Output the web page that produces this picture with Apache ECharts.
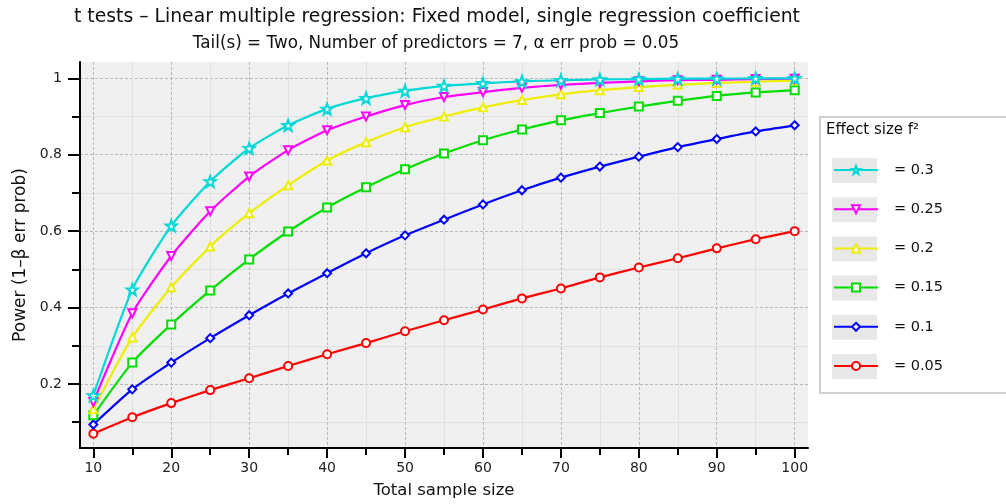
<!DOCTYPE html>
<html>
<head>
<meta charset="utf-8">
<script src="https://cdn.jsdelivr.net/npm/echarts@6/dist/echarts.min.js"></script>
<style>
html, body { margin: 0; padding: 0; background: #fff; }
#main { width: 1006px; height: 504px; }
</style>
</head>
<body>
<div id="main"></div>
<script>
var sampleSizes = [10, 15, 20, 25, 30, 35, 40, 45, 50, 55, 60, 65, 70, 75, 80, 85, 90, 95, 100];
var power03  = [0.170, 0.447, 0.614, 0.730, 0.817, 0.877, 0.920, 0.948, 0.967, 0.980, 0.987, 0.992, 0.995, 0.997, 0.998, 0.999, 0.999, 1.000, 1.000];
var power025 = [0.153, 0.385, 0.535, 0.652, 0.743, 0.812, 0.864, 0.900, 0.930, 0.951, 0.964, 0.975, 0.983, 0.988, 0.992, 0.995, 0.996, 0.998, 0.999];
var power02  = [0.134, 0.322, 0.453, 0.560, 0.647, 0.720, 0.785, 0.833, 0.872, 0.900, 0.924, 0.943, 0.958, 0.969, 0.977, 0.983, 0.988, 0.991, 0.994];
var power015 = [0.118, 0.256, 0.356, 0.445, 0.526, 0.599, 0.662, 0.715, 0.762, 0.803, 0.838, 0.866, 0.890, 0.909, 0.926, 0.941, 0.954, 0.963, 0.969];
var power01  = [0.094, 0.186, 0.256, 0.320, 0.380, 0.437, 0.490, 0.542, 0.589, 0.630, 0.670, 0.707, 0.740, 0.769, 0.795, 0.820, 0.841, 0.861, 0.877];
var power005 = [0.070, 0.113, 0.150, 0.184, 0.215, 0.247, 0.278, 0.307, 0.338, 0.367, 0.395, 0.424, 0.450, 0.479, 0.505, 0.529, 0.555, 0.579, 0.600];

var xMajorTicks = [10, 20, 30, 40, 50, 60, 70, 80, 90, 100];
var xMinorTicks = [15, 25, 35, 45, 55, 65, 75, 85, 95];
var yMajorTicks = [0.2, 0.4, 0.6, 0.8, 1];
var yMinorTicks = [0.1, 0.3, 0.5, 0.7, 0.9];

var FONT = 'DejaVu Sans';
var starPath = 'path://M0,-10L2.35,-3.24L9.51,-3.09L3.8,1.24L5.88,8.09L0,4L-5.88,8.09L-3.8,1.24L-9.51,-3.09L-2.35,-3.24Z';

// drawn bottom to top so the cyan curve sits on top
var seriesDefs = [
    { name: '= 0.05', data: power005, color: '#ff0000', symbol: 'circle', rotate: 0 },
    { name: '= 0.1',  data: power01,  color: '#0000ff', symbol: 'diamond', rotate: 0 },
    { name: '= 0.15', data: power015, color: '#00dd00', symbol: 'rect', rotate: 0 },
    { name: '= 0.2',  data: power02,  color: '#eeee00', symbol: 'triangle', rotate: 0 },
    { name: '= 0.25', data: power025, color: '#ff00ff', symbol: 'triangle', rotate: 180 },
    { name: '= 0.3',  data: power03,  color: '#00d8d8', symbol: starPath, rotate: 0 }
];

var myChart = echarts.init(document.getElementById('main'));

var series = seriesDefs.map(function (d) {
    return {
        name: d.name,
        type: 'line',
        xAxisIndex: 0,
        yAxisIndex: 0,
        data: sampleSizes.map(function (n, i) { return [n, d.data[i]]; }),
        symbol: d.symbol,
        symbolRotate: d.rotate,
        symbolSize: d.symbol === starPath ? 11 : 8,
        showAllSymbol: true,
        smooth: 0.2,
        lineStyle: { color: d.color, width: 2.2 },
        itemStyle: { color: '#ffffff', borderColor: d.color, borderWidth: 2 },
        emphasis: { disabled: true },
        animation: false
    };
});

// gray boxes behind the legend icons
var legendBoxes = [];
for (var i = 0; i < 6; i++) {
    legendBoxes.push({
        type: 'rect',
        shape: { x: 832, y: 158 + i * 39.2, width: 45, height: 25 },
        style: { fill: '#e8e8e8' },
        z: 1
    });
}

var option = {
    backgroundColor: '#ffffff',
    animation: false,
    title: [
        {
            text: 't tests \u2013 Linear multiple regression: Fixed model, single regression coefficient',
            left: 437, top: 8, textAlign: 'center', padding: 0,
            textStyle: { fontFamily: FONT, fontSize: 18.8, fontWeight: 'normal', color: '#111' }
        },
        {
            text: 'Tail(s) = Two, Number of predictors = 7, \u03b1 err prob = 0.05',
            left: 436, top: 35, textAlign: 'center', padding: 0,
            textStyle: { fontFamily: FONT, fontSize: 16.8, fontWeight: 'normal', color: '#111' }
        }
    ],
    grid: {
        left: 80, right: 198, top: 62, bottom: 56,
        show: true, backgroundColor: '#f0f0f0', borderWidth: 0
    },
    legend: {
        orient: 'vertical',
        left: 833, top: 162, padding: 0,
        itemWidth: 44, itemHeight: 10, itemGap: 23.2,
        data: ['= 0.3', '= 0.25', '= 0.2', '= 0.15', '= 0.1', '= 0.05'],
        textStyle: { fontFamily: FONT, fontSize: 14.5, color: '#111', lineHeight: 16, padding: [0, 0, 0, 11] },
        z: 5
    },
    xAxis: [
        {
            type: 'value', min: 8.29, max: 101.71, position: 'bottom',
            name: 'Total sample size', nameLocation: 'middle', nameGap: 34,
            nameTextStyle: { fontFamily: FONT, fontSize: 16.5, color: '#111' },
            axisLine: { show: true, lineStyle: { color: '#000', width: 2 } },
            axisTick: { show: true, length: 10, customValues: xMajorTicks, lineStyle: { color: '#000', width: 2 } },
            axisLabel: { customValues: xMajorTicks, margin: 13, fontFamily: FONT, fontSize: 14, color: '#222' },
            splitLine: { show: true, lineStyle: { color: '#b8b8b8', type: [3, 2], width: 1 } }
        },
        {
            type: 'value', min: 8.29, max: 101.71, position: 'bottom', offset: 0,
            axisLine: { show: false },
            axisTick: { show: true, length: 7, customValues: xMinorTicks, lineStyle: { color: '#000', width: 2 } },
            axisLabel: { show: false },
            splitLine: { show: true, lineStyle: { color: '#e0e0e0', width: 1 } }
        }
    ],
    yAxis: [
        {
            type: 'value', min: 0.0325, max: 1.0427, position: 'left',
            name: 'Power (1\u2013\u03b2 err prob)', nameLocation: 'middle', nameGap: 50, nameRotate: 90,
            nameTextStyle: { fontFamily: FONT, fontSize: 17, color: '#111' },
            axisLine: { show: true, lineStyle: { color: '#000', width: 2 } },
            axisTick: { show: true, length: 12, customValues: yMajorTicks, lineStyle: { color: '#000', width: 2 } },
            axisLabel: { customValues: yMajorTicks, margin: 18, fontFamily: FONT, fontSize: 14, color: '#222' },
            splitLine: { show: true, lineStyle: { color: '#b8b8b8', type: [3, 2], width: 1 } }
        },
        {
            type: 'value', min: 0.0325, max: 1.0427, position: 'left', offset: 0,
            axisLine: { show: false },
            axisTick: { show: true, length: 8, customValues: yMinorTicks, lineStyle: { color: '#000', width: 2 } },
            axisLabel: { show: false },
            splitLine: { show: true, lineStyle: { color: '#e0e0e0', width: 1 } }
        }
    ],
    graphic: [
        {
            type: 'rect',
            shape: { x: 820, y: 117, width: 200, height: 276 },
            style: { fill: '#ffffff', stroke: '#cfcfcf', lineWidth: 2 },
            z: 0
        },
        {
            type: 'text',
            x: 826, y: 123,
            style: { text: 'Effect size f\u00b2', fontFamily: FONT, fontSize: 15, fill: '#111' },
            z: 2
        }
    ].concat(legendBoxes),
    series: series
};

myChart.setOption(option);
</script>
</body>
</html>
